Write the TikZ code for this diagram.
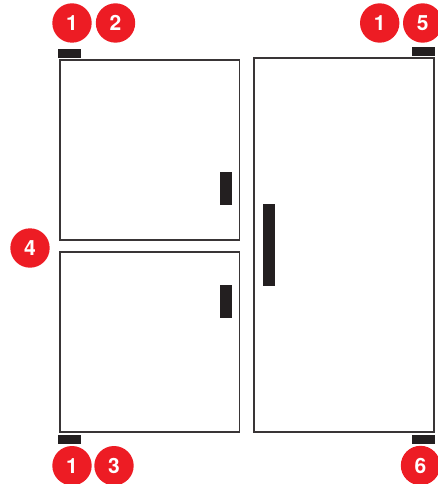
\documentclass[tikz,border=0pt]{standalone}
\usepackage{fontspec}
\setmainfont{TeX Gyre Heros}
\definecolor{badgered}{HTML}{ED1C24}
\definecolor{partblack}{HTML}{231F20}
\tikzset{
  door/.style={rectangle, draw=partblack!90, line width=1.7pt, fill=white, inner sep=0pt, outer sep=0pt},
  part/.style={rectangle, fill=partblack, inner sep=0pt, outer sep=0pt},
  hinge/.style={part, minimum width=23pt, minimum height=9pt},
  handle/.style={part, minimum width=12pt, minimum height=33pt},
  badge/.style={circle, fill=badgered, text=white, inner sep=0pt, minimum size=39.4pt,
    font=\fontsize{21}{21}\selectfont\bfseries},
}
\begin{document}
\begin{tikzpicture}[x=1pt, y=-1pt]
  \useasboundingbox (0,0) rectangle (438,484);
  % doors
  \node[door, minimum width=179.5pt, minimum height=180pt] (upperdoor) at (149.75,150) {};
  \node[door, minimum width=179.5pt, minimum height=179.7pt] (lowerdoor) at (149.75,342.15) {};
  \node[door, minimum width=179.7pt, minimum height=373.7pt] (talldoor) at (343.85,245.15) {};
  % handles
  \node[handle] (upperhandle) at (226,188.5) {};
  \node[handle] (lowerhandle) at (226,301.5) {};
  \node[handle, minimum height=82pt] (tallhandle) at (269,245) {};
  % hinges
  \node[hinge] (hingeul) at (69.5,53.3) {};
  \node[hinge] (hingell) at (69.5,439.5) {};
  \node[hinge] (hingeur) at (423.5,51.2) {};
  \node[hinge] (hingelr) at (423.5,439.5) {};
  % numbered badges
  \node[badge] (ula) at (72,23) {1};
  \node[badge] (ulb) at (115.5,23) {2};
  \node[badge] (ura) at (379.7,23) {1};
  \node[badge] (urb) at (422.7,23) {5};
  \node[badge] (mid) at (30,248) {4};
  \node[badge] (lla) at (72,465.7) {1};
  \node[badge] (llb) at (114,465.7) {3};
  \node[badge] (lrb) at (420.5,465.5) {6};
\end{tikzpicture}
\end{document}
